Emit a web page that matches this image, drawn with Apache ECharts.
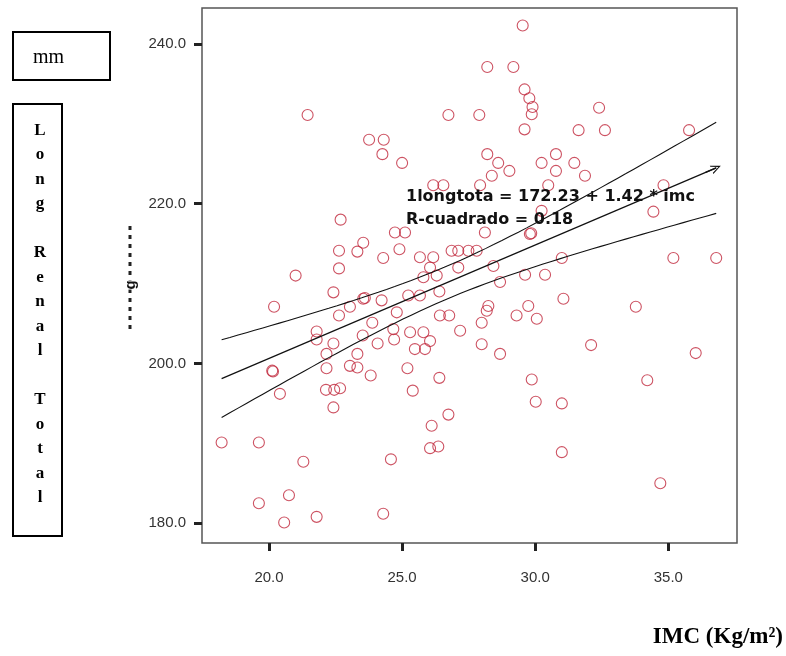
<!DOCTYPE html>
<html>
<head>
<meta charset="utf-8">
<script src="https://cdn.jsdelivr.net/npm/echarts@6/dist/echarts.min.js"></script>
<style>
  html, body { margin: 0; padding: 0; background: #ffffff; }
  #chart { width: 786px; height: 656px; }
</style>
</head>
<body>
<div id="chart"></div>
<script>
// IMC (kg/m²) of each subject
const imc = [
  21.45, 23.76, 24.31, 24.26, 29.53, 28.20, 29.18, 29.60, 29.78, 29.90,
  29.87, 26.74, 27.90, 29.60, 31.63, 25.00, 28.20, 28.61, 29.03, 30.78,
  30.24, 30.78, 31.47, 28.37, 31.87, 32.40, 32.62, 35.78, 22.69, 23.54,
  23.32, 22.63, 24.29, 22.63, 21.00, 22.42, 20.19, 22.63, 23.04, 23.54,
  23.60, 24.23, 23.88, 21.79, 21.79, 22.42, 23.52, 24.08, 24.70, 22.16,
  23.32, 20.12, 20.15, 20.41, 22.16, 22.14, 22.45, 22.67, 22.42, 23.04,
  23.32, 23.82, 18.22, 19.62, 21.29, 24.58, 20.75, 19.62, 20.57, 21.79,
  24.29, 26.17, 26.55, 27.93, 30.49, 28.11, 29.80, 29.85, 30.24, 24.90,
  26.86, 27.11, 27.49, 27.80, 25.67, 26.17, 26.05, 27.11, 28.43, 31.00,
  26.30, 25.80, 28.68, 29.62, 30.37, 26.40, 25.23, 25.67, 31.06, 28.24,
  28.18, 29.74, 26.42, 26.77, 29.30, 30.06, 27.99, 24.80, 24.67, 25.30,
  27.18, 25.80, 26.05, 25.48, 25.86, 27.99, 28.68, 32.10, 24.73, 25.11,
  25.20, 26.40, 25.40, 26.74, 26.11, 26.05, 26.36, 29.87, 30.02, 31.00,
  31.00, 36.03, 34.21, 34.70, 34.82, 34.44, 35.19, 36.80, 33.78
];
// total renal length (mm) of each subject, same order
const longTotal = [
  231.1, 228.0, 228.0, 226.2, 242.3, 237.1, 237.1, 234.3, 233.2, 232.1,
  231.2, 231.1, 231.1, 229.3, 229.2, 225.1, 226.2, 225.1, 224.1, 226.2,
  225.1, 224.1, 225.1, 223.5, 223.5, 232.0, 229.2, 229.2, 218.0, 215.1,
  214.0, 214.1, 213.2, 211.9, 211.0, 208.9, 207.1, 206.0, 207.1, 208.1,
  208.2, 207.9, 205.1, 204.0, 203.0, 202.5, 203.5, 202.5, 203.0, 201.2,
  201.2, 199.1, 199.0, 196.2, 199.4, 196.7, 196.7, 196.9, 194.5, 199.7,
  199.5, 198.5, 190.1, 190.1, 187.7, 188.0, 183.5, 182.5, 180.1, 180.8,
  181.2, 222.3, 222.3, 222.3, 222.3, 216.4, 216.2, 216.3, 219.1, 214.3,
  214.1, 214.1, 214.1, 214.1, 213.3, 213.3, 212.0, 212.0, 212.2, 213.2,
  211.0, 210.8, 210.2, 211.1, 211.1, 209.0, 208.5, 208.5, 208.1, 207.2,
  206.6, 207.2, 206.0, 206.0, 206.0, 205.6, 205.1, 206.4, 204.3, 203.9,
  204.1, 203.9, 202.8, 201.8, 201.8, 202.4, 201.2, 202.3, 216.4, 216.4,
  199.4, 198.2, 196.6, 193.6, 192.2, 189.4, 189.6, 198.0, 195.2, 195.0,
  188.9, 201.3, 197.9, 185.0, 222.3, 219.0, 213.2, 213.2, 207.1
];

const xTicks = [20, 25, 30, 35];
const yTicks = [180, 200, 220, 240];

// fitted model as printed on the chart
const intercept = 172.23;
const slope = 1.42;
const rSquared = 0.18;

const points = imc.map((v, i) => [v, longTotal[i]]);

// 95% confidence band of the mean around the printed fit line
const n = imc.length;
const xMean = imc.reduce((s, v) => s + v, 0) / n;
const sxx = imc.reduce((s, v) => s + (v - xMean) * (v - xMean), 0);
const sse = imc.reduce((s, v, i) => {
  const r = longTotal[i] - (intercept + slope * v);
  return s + r * r;
}, 0);
const sRes = Math.sqrt(sse / (n - 2));
const tCrit = 1.977;
const xLo = Math.min(...imc);
const xHi = Math.max(...imc);
const fit = (x) => intercept + slope * x;
const bandHalf = (x) => tCrit * sRes * Math.sqrt(1 / n + (x - xMean) * (x - xMean) / sxx);
const steps = 60;
const upperBand = [];
const lowerBand = [];
for (let k = 0; k <= steps; k++) {
  const x = xLo + (xHi - xLo) * k / steps;
  upperBand.push([x, fit(x) + bandHalf(x)]);
  lowerBand.push([x, fit(x) - bandHalf(x)]);
}

const chart = echarts.init(document.getElementById('chart'), null, { renderer: 'canvas' });

const tickLabel = {
  fontFamily: 'Liberation Sans',
  fontSize: 15,
  color: '#333333',
  formatter: (v) => v.toFixed(1)
};
const tickStyle = { show: true, inside: false, length: 8, lineStyle: { color: '#222222', width: 3 } };

chart.setOption({
  animation: false,
  backgroundColor: '#ffffff',
  grid: {
    left: 202, top: 8, width: 535, height: 535,
    show: true, borderColor: '#555555', borderWidth: 1.5, backgroundColor: '#ffffff'
  },
  xAxis: {
    type: 'value', min: 17.483, max: 37.581,
    axisLine: { show: false },
    splitLine: { show: false },
    axisTick: Object.assign({ customValues: xTicks }, tickStyle),
    axisLabel: Object.assign({ customValues: xTicks, margin: 27 }, tickLabel)
  },
  yAxis: {
    type: 'value', min: 177.53, max: 244.49,
    axisLine: { show: false },
    splitLine: { show: false },
    axisTick: Object.assign({ customValues: yTicks }, tickStyle),
    axisLabel: Object.assign({ customValues: yTicks, margin: 16 }, tickLabel)
  },
  series: [
    {
      type: 'scatter',
      data: points,
      symbol: 'circle',
      symbolSize: 11,
      itemStyle: { color: 'rgba(0,0,0,0)', borderColor: '#c0283c', borderWidth: 1.1 },
      z: 3
    },
    {
      type: 'line',
      data: [[xLo, fit(xLo)], [xHi, fit(xHi)]],
      showSymbol: false,
      lineStyle: { color: '#111111', width: 1.2 },
      markLine: {
        silent: true,
        symbol: ['none', 'path://M0,10 L5,0 L10,10 L8.6,10 L5,2.6 L1.4,10 Z'],
        symbolSize: [9, 10],
        lineStyle: { color: '#111111', width: 1.2, type: 'solid' },
        label: { show: false },
        data: [[{ coord: [xHi - 0.4, fit(xHi - 0.4)] }, { coord: [xHi, fit(xHi)] }]]
      },
      z: 4
    },
    {
      type: 'line',
      data: upperBand,
      showSymbol: false,
      lineStyle: { color: '#111111', width: 1.1 },
      z: 4
    },
    {
      type: 'line',
      data: lowerBand,
      showSymbol: false,
      lineStyle: { color: '#111111', width: 1.1 },
      z: 4
    }
  ],
  graphic: [
    {
      type: 'text', left: 406, top: 189, z: 10,
      style: {
        text: '1longtota = ' + intercept.toFixed(2) + ' + ' + slope.toFixed(2) + ' * imc',
        font: 'bold 16px "DejaVu Sans"', fill: '#111111'
      }
    },
    {
      type: 'text', left: 406, top: 212, z: 10,
      style: {
        text: 'R-cuadrado = ' + rSquared.toFixed(2),
        font: 'bold 16px "DejaVu Sans"', fill: '#111111'
      }
    },
    // unit box
    {
      type: 'rect', z: 10,
      shape: { x: 13, y: 32, width: 97, height: 48 },
      style: { fill: '#ffffff', stroke: '#000000', lineWidth: 2 }
    },
    {
      type: 'text', x: 33, y: 58, z: 11,
      style: { text: 'mm', font: '20px "Liberation Serif"', fill: '#000000', verticalAlign: 'middle' }
    },
    // vertical axis title box
    {
      type: 'rect', z: 10,
      shape: { x: 13, y: 104, width: 49, height: 432 },
      style: { fill: '#ffffff', stroke: '#000000', lineWidth: 2 }
    },
    {
      type: 'text', x: 40, y: 118, z: 11,
      style: {
        text: 'L\no\nn\ng\n\nR\ne\nn\na\nl\n\nT\no\nt\na\nl',
        font: 'bold 17px "Liberation Serif"', fill: '#000000',
        align: 'center', lineHeight: 24.5
      }
    },
    // leftover of the original axis title
    {
      type: 'line', z: 10,
      shape: { x1: 130, y1: 226, x2: 130, y2: 332 },
      style: { stroke: '#222222', lineWidth: 3, lineDash: [4, 5] }
    },
    {
      type: 'text', x: 131, y: 285, rotation: Math.PI / 2, z: 11,
      style: { text: 'g', font: 'bold 15px "Liberation Sans"', fill: '#111111', align: 'center', verticalAlign: 'middle', backgroundColor: '#ffffff' }
    },
    // horizontal axis title
    {
      type: 'text', right: 3, top: 626, z: 10,
      style: { text: 'IMC (Kg/m²)', font: 'bold 23px "Liberation Serif"', fill: '#000000' }
    }
  ]
});
</script>
</body>
</html>
